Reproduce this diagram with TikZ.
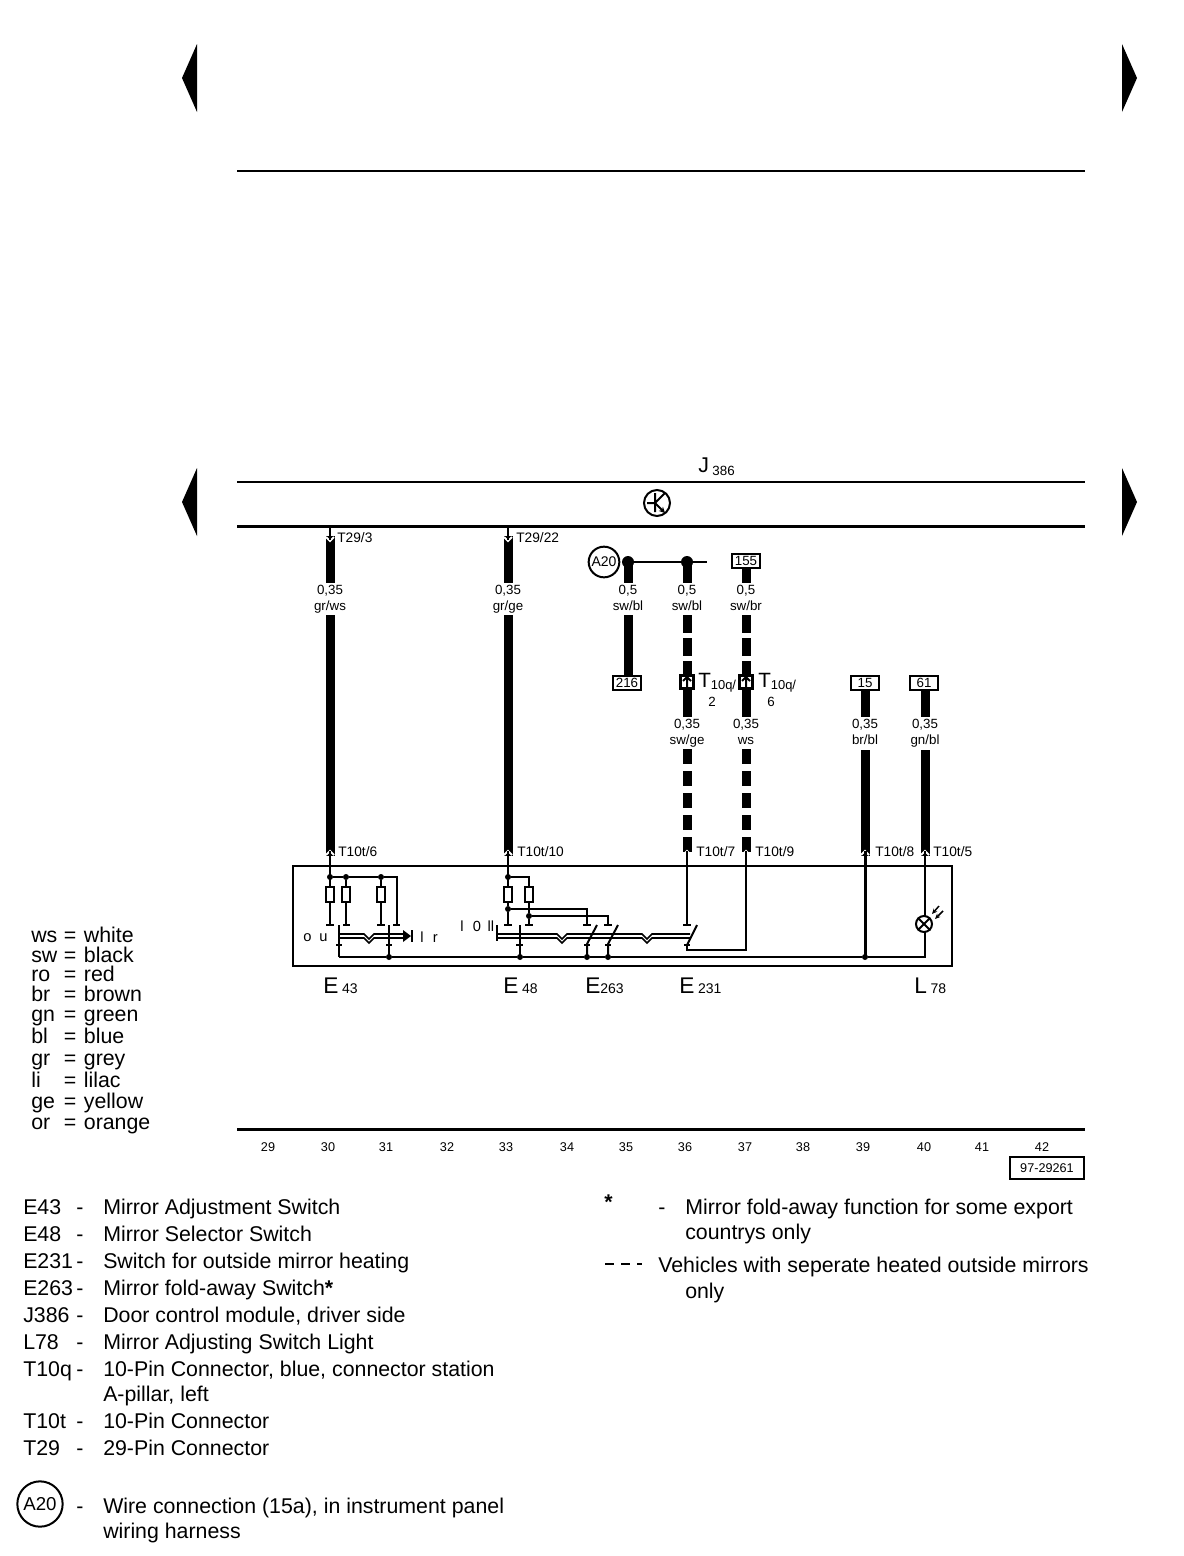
\documentclass[tikz,border=0pt]{standalone}
\usepackage{fontspec}
\usetikzlibrary{arrows.meta}
\setmainfont{Liberation Sans}
\newcommand{\wirelab}[2]{\strut #1\\\strut #2}
\newcommand{\keyline}[2]{\makebox[24.5pt][l]{#1}\makebox[15pt][l]{=}#2}
\tikzset{
  wire/.style={line width=6.75pt},
  dashwire/.style={line width=6.75pt,dash pattern=on 13.5pt off 3.75pt},
  lowdash/.style={line width=6.75pt,dash pattern=on 11.25pt off 5.25pt},
  thin wire/.style={line width=1.5pt},
  pinlabel/.style={anchor=west,inner sep=0.75pt,font=\fontsize{10.3}{12}\selectfont},
  wirelabel/.style={align=center,inner sep=0.75pt,font=\fontsize{10}{12}\selectfont},
  partlabel/.style={anchor=west,inner sep=0.75pt,font=\fontsize{17}{18}\selectfont},
  legendtext/.style={anchor=north west,inner sep=0.75pt,align=left,font=\fontsize{16}{18.75}\selectfont},
  legenddash/.style={anchor=north west,inner sep=0.75pt,text height=11.5pt,font=\fontsize{16}{18.75}\selectfont},
  colourtext/.style={anchor=base west,inner sep=0.75pt,font=\fontsize{16}{18}\selectfont},
  swlabel/.style={anchor=west,inner sep=0.75pt,font=\fontsize{11}{12}\selectfont},
  gridnum/.style={inner sep=0.75pt,font=\fontsize{9.5}{12}\selectfont},
  tagbox/.style={draw,line width=1.5pt,fill=white,inner sep=0pt,minimum width=21pt,minimum height=10.5pt,font=\fontsize{10}{10}\selectfont},
  connbox/.style={draw,line width=2.25pt,fill=white,inner sep=0pt,minimum width=10pt,minimum height=10pt},
  dot/.style={circle,fill=black,inner sep=0pt,minimum size=4.5pt},
  bigdot/.style={circle,fill=black,inner sep=0pt,minimum size=9pt},
  resistor/.style={draw,line width=1.5pt,fill=white,inner sep=0pt,minimum width=5.5pt,minimum height=11.25pt},
}
\begin{document}
\begin{tikzpicture}[x=0.75pt,y=0.75pt,yscale=-1,xscale=1]
\useasboundingbox (0,0) rectangle (1184,1556);

%Page arrows
\fill (197,44) -- (182,78) -- (197,112) -- cycle;
\fill (1122,44) -- (1137,78) -- (1122,112) -- cycle;
\fill (197,468) -- (182,502) -- (197,536) -- cycle;
\fill (1122,468) -- (1137,502) -- (1122,536) -- cycle;

%Straight Lines
\draw[line width=1.5pt] (237,171) -- (1085,171);
\draw[line width=1.5pt] (237,482) -- (1085,482);
\draw[line width=2.25pt] (237,526) -- (1085,526);
\draw[line width=2.25pt] (237,1129) -- (1085,1129);

% Text Node
\node[inner sep=0.75pt,anchor=west] (j386) at (697,467) {\fontsize{16}{18}\selectfont J\,\fontsize{10}{12}\selectfont\raisebox{-2pt}{386}};

%Module symbol
\node[draw,circle,line width=1.5pt,minimum size=19.5pt,inner sep=0pt] (ksym) at (657,503) {};
\draw[line width=1.5pt] (655,493) -- (655,512) (647,503) -- (655,503) (655,503) -- (665,493);
\draw[line width=1.5pt,-{Stealth[length=4.5pt,width=4.5pt]}] (655,503) -- (665,513);

%Wires to connectors
\coordinate (w30top) at (330,536);
\coordinate (w30a) at (330,583);
\coordinate (w30b) at (330,615);
\coordinate (w30bot) at (330,856);
\draw[wire] (w30top) -- (w30a) (w30b) -- (w30bot);
\coordinate (w33top) at (508,536);
\coordinate (w33a) at (508,583);
\coordinate (w33b) at (508,615);
\coordinate (w33bot) at (508,856);
\draw[wire] (w33top) -- (w33a) (w33b) -- (w33bot);
\draw[line width=1.5pt,white] (326,537) -- (330,541) -- (334,537) (504,537) -- (508,541) -- (512,537);
\draw[thin wire] (330,526) -- (330,540) (508,526) -- (508,540);

\node[bigdot] (j1) at (628,562) {};
\node[bigdot] (j2) at (687,562) {};
\coordinate (jend) at (707,562);
\draw[thin wire] (j1) -- (j2) -- (jend);
\node[draw,circle,line width=1.5pt,minimum size=23pt,inner sep=0pt,font=\fontsize{10.5}{10}\selectfont] (a20) at (604,562) {A20};
\node[tagbox] (t155) at (746,561) {155};
\node[tagbox] (t216) at (627,683) {216};
\node[tagbox] (t15) at (865,683) {15};
\node[tagbox] (t61) at (924,683) {61};

\coordinate (a36a) at (628,583);
\coordinate (a36b) at (628,615);
\draw[wire] (j1.center) -- (a36a) (a36b) -- (t216.north -| a36b);
\draw[wire] (j2.center) -- (687,583);
\draw[wire] (t155) -- (746,583);
\draw[dashwire] (687,615) -- (687,677);
\draw[dashwire] (746,615) -- (746,677);
\draw[wire] (687,689) -- (687,717) (746,689) -- (746,717);
\draw[lowdash] (687,749) -- (687,856);
\draw[lowdash] (746,749) -- (746,856);
\draw[wire] (t15) -- (865,717) (865,750) -- (865,856);
\draw[wire] (t61.south -| 925,683) -- (925,717) (925,750) -- (925,856);

%Connector symbols T10q
\node[connbox] (q2) at (687,682) {};
\node[connbox] (q6) at (746,682) {};
\draw[line width=1.5pt] (687,688) -- (687,678) (683,681) -- (687,677) -- (691,681);
\draw[line width=1.5pt] (746,688) -- (746,678) (742,681) -- (746,677) -- (750,681);

\node[inner sep=0.75pt,anchor=west] (tq2) at (697,683) {\fontsize{15.5}{18}\selectfont T\fontsize{9.7}{12}\selectfont\raisebox{-1.5pt}{10q/}};
\node[inner sep=0.75pt,anchor=west] (tq6) at (757,683) {\fontsize{15.5}{18}\selectfont T\fontsize{9.7}{12}\selectfont\raisebox{-1.5pt}{10q/}};
\node[wirelabel] (tq2n) at (712,702) {2};
\node[wirelabel] (tq6n) at (771,702) {6};

% Text Node
\node[wirelabel] (l30) at (330,599) {\wirelab{0,35}{gr/ws}};
\node[wirelabel] (l33) at (508,599) {\wirelab{0,35}{gr/ge}};
\node[wirelabel] (l36) at (628,599) {\wirelab{0,5}{sw/bl}};
\node[wirelabel] (l37) at (687,599) {\wirelab{0,5}{sw/bl}};
\node[wirelabel] (l38) at (746,599) {\wirelab{0,5}{sw/br}};
\node[wirelabel] (l39) at (687,733) {\wirelab{0,35}{sw/ge}};
\node[wirelabel] (l40) at (746,733) {\wirelab{0,35}{ws}};
\node[wirelabel] (l41) at (865,733) {\wirelab{0,35}{br/bl}};
\node[wirelabel] (l42) at (925,733) {\wirelab{0,35}{gn/bl}};
\node[pinlabel] (p1) at (336,538) {T29/3};
\node[pinlabel] (p2) at (515,538) {T29/22};
\node[pinlabel] (p3) at (337,852) {T10t/6};
\node[pinlabel] (p4) at (516,852) {T10t/10};
\node[pinlabel] (p5) at (695,852) {T10t/7};
\node[pinlabel] (p6) at (754,852) {T10t/9};
\node[pinlabel] (p7) at (874,852) {T10t/8};
\node[pinlabel] (p8) at (932,852) {T10t/5};

%Switch box
\draw[line width=1.5pt] (293,866) rectangle (952,966);
\foreach \px in {330,508,687,746,865,925} {
  \draw[line width=1.5pt,white] (\px-4,855) -- (\px,851) -- (\px+4,855);
}
\draw[thin wire] (330,851) -- (330,886);
\draw[thin wire] (508,851) -- (508,886);
\draw[thin wire] (687,851) -- (687,925);
\draw[thin wire] (746,851) -- (746,950) -- (687,950) -- (687,945);
\draw[line width=2.25pt] (865,851) -- (865,957);
\draw[line width=1.2pt] (925,851) -- (925,916);

%E43
\node[dot] (d1) at (330,877) {};
\node[dot] (d2) at (346,877) {};
\node[dot] (d3) at (381,877) {};
\draw[thin wire] (d1) -- (d2) -- (d3) -- (397,877) -- (397,925);
\node[resistor] (r1) at (330,894) {};
\node[resistor] (r2) at (346,894) {};
\node[resistor] (r3) at (381,894) {};
\draw[thin wire] (d2) -- (r2) (d3) -- (r3) (r1) -- (330,925) (r2) -- (346,925) (r3) -- (381,925);
\draw[line width=1.5pt] (326,925) -- (334,925) (343,925) -- (350,925) (377,925) -- (385,925) (393,925) -- (400,925);
\draw[thin wire] (339,925) -- (339,957);
\draw[thin wire] (389,925) -- (389,957);
\draw[line width=1.5pt] (336,945) -- (342,945) (386,945) -- (392,945);
\draw[line width=1.2pt] (339,934) -- (364,934) -- (369,939) -- (374,934) -- (404,934) (339,938) -- (364,938) -- (369,943) -- (374,938) -- (404,938);
\fill (403,930) -- (411,936) -- (403,942) -- cycle;
\draw[thin wire] (412,930) -- (412,942);
\node[swlabel] (ou) at (302,938) {o\hspace{6pt}u};
\node[swlabel] (lr) at (419,937) {l\hspace{7pt}r};

%E48
\node[dot] (d4) at (508,877) {};
\draw[thin wire] (d4) -- (529,877) -- (529,886);
\node[resistor] (r4) at (508,894) {};
\node[resistor] (r5) at (529,894) {};
\node[dot] (d5) at (508,909) {};
\node[dot] (d6) at (529,916) {};
\draw[thin wire] (r4) -- (d5) -- (508,925) (r5) -- (d6) -- (529,925);
\draw[thin wire] (d5) -- (587,909) -- (587,925) (d6) -- (608,916) -- (608,925);
\draw[line width=1.5pt] (504,925) -- (512,925) (525,925) -- (533,925) (583,925) -- (591,925) (604,925) -- (612,925) (683,925) -- (691,925);
\node[swlabel] (lzl) at (459,926) {l\hspace{7pt}0\hspace{5pt}ll};
\draw[line width=1.2pt] (497,925) -- (497,941);
\draw[line width=1.2pt] (497,934) -- (557,934) -- (562,939) -- (567,934) -- (642,934) -- (647,939) -- (652,934) -- (690,934);
\draw[line width=1.2pt] (497,938) -- (557,938) -- (562,943) -- (567,938) -- (642,938) -- (647,943) -- (652,938) -- (690,938);
\draw[thin wire] (520,925) -- (520,957);
\draw[line width=1.5pt] (516,945) -- (523,945) (584,945) -- (590,945) (605,945) -- (611,945) (684,945) -- (690,945);
\draw[thin wire] (597,925) -- (587,944) -- (587,957);
\draw[thin wire] (618,925) -- (608,944) -- (608,957);
\draw[thin wire] (697,925) -- (687,945);

%Bottom rail and lamp
\node[dot] (d7) at (389,957) {};
\node[dot] (d8) at (520,957) {};
\node[dot] (d9) at (587,957) {};
\node[dot] (d10) at (608,957) {};
\node[dot] (d11) at (865,957) {};
\draw[thin wire] (339,957) -- (d7) -- (d8) -- (d9) -- (d10) -- (d11) -- (925,957) -- (925,932);
\node[draw,circle,line width=1.5pt,minimum size=12pt,inner sep=0pt] (lamp) at (924,924) {};
\draw[line width=1.5pt] (lamp.45) -- (lamp.225) (lamp.135) -- (lamp.315);
\draw[line width=1.1pt,-{Stealth[length=4pt,width=3.5pt]}] (943,911) -- (935,919);
\draw[line width=1.1pt,-{Stealth[length=4pt,width=3.5pt]}] (939,906) -- (932,914);

% Text Node
\node[partlabel] (e43) at (322,986) {E\,\fontsize{10.5}{12}\selectfont 43};
\node[partlabel] (e48) at (502,986) {E\,\fontsize{10.5}{12}\selectfont 48};
\node[partlabel] (e263) at (584,986) {E\fontsize{10.5}{12}\selectfont 263};
\node[partlabel] (e231) at (678,986) {E\,\fontsize{10.5}{12}\selectfont 231};
\node[partlabel] (l78) at (913,986) {L\,\fontsize{10.5}{12}\selectfont 78};

%Colour key
\node[colourtext] (k1) at (30,942) {\keyline{ws}{white}};
\node[colourtext] (k2) at (30,962) {\keyline{sw}{black}};
\node[colourtext] (k3) at (30,981) {\keyline{ro}{red}};
\node[colourtext] (k4) at (30,1001) {\keyline{br}{brown}};
\node[colourtext] (k5) at (30,1021) {\keyline{gn}{green}};
\node[colourtext] (k6) at (30,1043) {\keyline{bl}{blue}};
\node[colourtext] (k7) at (30,1065) {\keyline{gr}{grey}};
\node[colourtext] (k8) at (30,1087) {\keyline{li}{lilac}};
\node[colourtext] (k9) at (30,1108) {\keyline{ge}{yellow}};
\node[colourtext] (k10) at (30,1129) {\keyline{or}{orange}};

%Grid numbers
\node[gridnum] (n29) at (268,1147) {29};
\node[gridnum] (n30) at (328,1147) {30};
\node[gridnum] (n31) at (386,1147) {31};
\node[gridnum] (n32) at (447,1147) {32};
\node[gridnum] (n33) at (506,1147) {33};
\node[gridnum] (n34) at (567,1147) {34};
\node[gridnum] (n35) at (626,1147) {35};
\node[gridnum] (n36) at (685,1147) {36};
\node[gridnum] (n37) at (745,1147) {37};
\node[gridnum] (n38) at (803,1147) {38};
\node[gridnum] (n39) at (863,1147) {39};
\node[gridnum] (n40) at (924,1147) {40};
\node[gridnum] (n41) at (982,1147) {41};
\node[gridnum] (n42) at (1042,1147) {42};
\node[draw,line width=1.5pt,inner sep=0pt,minimum width=56pt,minimum height=16pt,font=\fontsize{9.5}{12}\selectfont] (docno) at (1047,1168) {97-29261};

%Legend
\node[legendtext] (c1) at (22,1198) {E43};
\node[legendtext] (c2) at (22,1225) {E48};
\node[legendtext] (c3) at (22,1252) {E231};
\node[legendtext] (c4) at (22,1279) {E263};
\node[legendtext] (c5) at (22,1306) {J386};
\node[legendtext] (c6) at (22,1333) {L78};
\node[legendtext] (c7) at (22,1360) {T10q};
\node[legendtext] (c8) at (22,1412) {T10t};
\node[legendtext] (c9) at (22,1439) {T29};
\foreach \py in {1198,1225,1252,1279,1306,1333,1360,1412,1439,1497} {
  \node[legenddash] (h\py) at (75,\py) {-};
}
\node[legendtext] (d1t) at (102,1198) {Mirror Adjustment Switch};
\node[legendtext] (d2t) at (102,1225) {Mirror Selector Switch};
\node[legendtext] (d3t) at (102,1252) {Switch for outside mirror heating};
\node[legendtext] (d4t) at (102,1279) {Mirror fold-away Switch\textbf{*}};
\node[legendtext] (d5t) at (102,1306) {Door control module, driver side};
\node[legendtext] (d6t) at (102,1333) {Mirror Adjusting Switch Light};
\node[legendtext] (d7t) at (102,1360) {10-Pin Connector, blue, connector station\\A-pillar, left};
\node[legendtext] (d8t) at (102,1412) {10-Pin Connector};
\node[legendtext] (d9t) at (102,1439) {29-Pin Connector};
\node[draw,circle,line width=1.5pt,minimum size=34pt,inner sep=0pt,font=\fontsize{14}{14}\selectfont] (a20big) at (40,1504) {A20};
\node[legendtext] (d10t) at (102,1497) {Wire connection (15a), in instrument panel\\wiring harness};

\node[legendtext] (star) at (603,1194) {\textbf{*}};
\node[legenddash] (h1) at (657,1198) {-};
\node[legendtext] (s1t) at (684,1198) {Mirror fold-away function for some export\\countrys only};
\draw[line width=1.5pt,dash pattern=on 7pt off 5pt] (605,1264) -- (642,1264);
\node[legendtext] (s2t) at (657,1256) {Vehicles with seperate heated outside mirrors};
\node[legendtext] (s3t) at (684,1282) {only};
\end{tikzpicture}
\end{document}
